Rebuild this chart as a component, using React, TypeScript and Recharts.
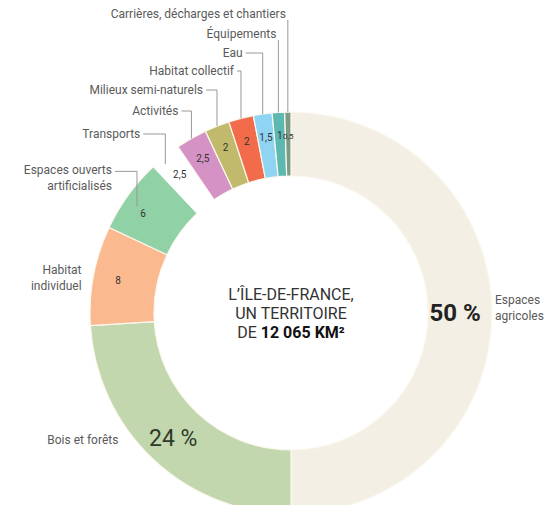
import { Cell, Pie, PieChart } from "recharts"

const categories = [
  "Espaces agricoles",
  "Bois et forêts",
  "Habitat individuel",
  "Espaces ouverts artificialisés",
  "Transports",
  "Activités",
  "Milieux semi-naturels",
  "Habitat collectif",
  "Eau",
  "Équipements",
  "Carrières, décharges et chantiers",
]
const shares = [50, 24, 8, 6, 2.5, 2.5, 2, 2, 1.5, 1, 0.5]
const valueLabels = ["50 %", "24 %", "8", "6", "2,5", "2,5", "2", "2", "1,5", "1", "0,5"]
const captionLines = [
  ["Espaces", "agricoles"],
  ["Bois et forêts"],
  ["Habitat", "individuel"],
  ["Espaces ouverts", "artificialisés"],
  ["Transports"],
  ["Activités"],
  ["Milieux semi-naturels"],
  ["Habitat collectif"],
  ["Eau"],
  ["Équipements"],
  ["Carrières, décharges et chantiers"],
]
const centerLines = ["L’ÎLE-DE-FRANCE,", "UN TERRITOIRE"]
const centerLast = ["DE ", "12 065 KM²"]

const COLORS = ["#f3efe4", "#c3d7ae", "#fbb990", "#90d1a6", "#ffffff", "#d592c5", "#c1b96c", "#f26c4b", "#8fd5f3", "#5cb9b1", "#7d9b84"]
const FONT = "Roboto, 'Liberation Sans', sans-serif"
const GREY = "#5a5a5a"
const LINE = "#999"

// row positions for the captions of the thin slices (text middle y, gap before the leader)
const ROWS: Record<number, { y: number; gap: number; under?: boolean }> = {
  4: { y: 134, gap: 22 },
  5: { y: 111, gap: 10 },
  6: { y: 90, gap: 11 },
  7: { y: 71, gap: 4 },
  8: { y: 53, gap: 17 },
  9: { y: 34, gap: 0, under: true },
  10: { y: 14, gap: 0, under: true },
}

const data = categories.map((name, i) => ({ name, value: shares[i] }))
const RAD = Math.PI / 180
const polar = (cx: number, cy: number, r: number, a: number) => ({
  x: cx + r * Math.cos(-a * RAD),
  y: cy + r * Math.sin(-a * RAD),
})

function renderLabel(props: any) {
  const { cx, cy, midAngle, outerRadius, index } = props
  const out = polar(cx, cy, outerRadius, midAngle)
  const items: React.ReactNode[] = []

  if (index === 0) {
    const v = polar(cx, cy, 164, midAngle)
    items.push(
      <text key="v" x={v.x} y={v.y + 8} textAnchor="middle" fontSize={24} fontWeight="bold" fill="#222" fontFamily={FONT}>
        {valueLabels[0]}
      </text>,
      <text key="c" x={out.x + 3} fontSize={12} fill={GREY} fontFamily={FONT}>
        <tspan x={out.x + 3} y={out.y - 9}>{captionLines[0][0]}</tspan>
        <tspan x={out.x + 3} y={out.y + 7}>{captionLines[0][1]}</tspan>
      </text>,
      <text key="m" textAnchor="middle" fontSize={16} fill="#333" fontFamily={FONT}>
        <tspan x={cx} y={cy - 13}>{centerLines[0]}</tspan>
        <tspan x={cx} y={cy + 6}>{centerLines[1]}</tspan>
        <tspan x={cx} y={cy + 25}>
          {centerLast[0]}
          <tspan fontWeight="bold" fill="#111">{centerLast[1]}</tspan>
        </tspan>
      </text>
    )
  } else if (index === 1) {
    const v = polar(cx, cy, 172, midAngle)
    items.push(
      <text key="v" x={v.x} y={v.y + 8} textAnchor="middle" fontSize={23} fill="#2e3a2a" fontFamily={FONT}>
        {valueLabels[1]}
      </text>,
      <text key="c" x={out.x - 35} y={out.y - 16} textAnchor="end" fontSize={12} fill={GREY} fontFamily={FONT}>
        {captionLines[1][0]}
      </text>
    )
  } else if (index === 2) {
    const v = polar(cx, cy, 176, midAngle)
    items.push(
      <text key="v" x={v.x} y={v.y + 4} textAnchor="middle" fontSize={10} fill="#333" fontFamily={FONT}>
        {valueLabels[2]}
      </text>,
      <text key="c" textAnchor="end" fontSize={12} fill={GREY} fontFamily={FONT}>
        <tspan x={out.x - 12} y={out.y - 1}>{captionLines[2][0]}</tspan>
        <tspan x={out.x - 12} y={out.y + 15}>{captionLines[2][1]}</tspan>
      </text>
    )
  } else if (index === 3) {
    const v = polar(cx, cy, 178, midAngle)
    const lx = v.x - 10
    items.push(
      <text key="v" x={v.x - 4} y={v.y + 9} textAnchor="middle" fontSize={10} fill="#333" fontFamily={FONT}>
        {valueLabels[3]}
      </text>,
      <polyline key="l" points={`${lx - 22},${v.y - 37} ${lx},${v.y - 37} ${lx},${v.y - 2}`} fill="none" stroke={LINE} strokeWidth={1} />,
      <text key="c" textAnchor="end" fontSize={12} fill={GREY} fontFamily={FONT}>
        <tspan x={lx - 25} y={v.y - 34}>{captionLines[3][0]}</tspan>
        <tspan x={lx - 25} y={v.y - 18}>{captionLines[3][1]}</tspan>
      </text>
    )
  } else {
    const row = ROWS[index]
    const v = polar(cx, cy, 178, midAngle)
    const lx = out.x
    const endY = index === 4 ? out.y + 8 : out.y
    items.push(
      <text key="v" x={v.x} y={v.y + 4} textAnchor="middle" fontSize={index === 10 ? 8 : 10} fill="#333" fontFamily={FONT}>
        {valueLabels[index]}
      </text>
    )
    if (row.under) {
      items.push(
        <line key="l" x1={lx} y1={row.y + 6} x2={lx} y2={endY} stroke={LINE} strokeWidth={1} />,
        <text key="c" x={lx - 2} y={row.y + 4} textAnchor="end" fontSize={12} fill={GREY} fontFamily={FONT}>
          {captionLines[index][0]}
        </text>
      )
    } else {
      items.push(
        <polyline key="l" points={`${lx - row.gap},${row.y} ${lx},${row.y} ${lx},${endY}`} fill="none" stroke={LINE} strokeWidth={1} />,
        <text key="c" x={lx - row.gap - 3} y={row.y + 4} textAnchor="end" fontSize={12} fill={GREY} fontFamily={FONT}>
          {captionLines[index][0]}
        </text>
      )
    }
  }
  return <g>{items}</g>
}

export default function App() {
  return (
    <div style={{ position: "absolute", left: 0, top: 0, width: 553, height: 505, background: "#fff" }}>
      <PieChart width={553} height={505}>
        <Pie
          data={data}
          dataKey="value"
          nameKey="name"
          cx={286}
          cy={308}
          innerRadius={137}
          outerRadius={201}
          startAngle={90}
          endAngle={-270}
          stroke="#fbf8ef"
          strokeWidth={1.2}
          label={renderLabel}
          labelLine={false}
          isAnimationActive={false}
        >
          {data.map((_, i) => (
            <Cell key={i} fill={COLORS[i]} stroke={i === 4 ? "#ffffff" : "#fbf8ef"} />
          ))}
        </Pie>
      </PieChart>
    </div>
  )
}
